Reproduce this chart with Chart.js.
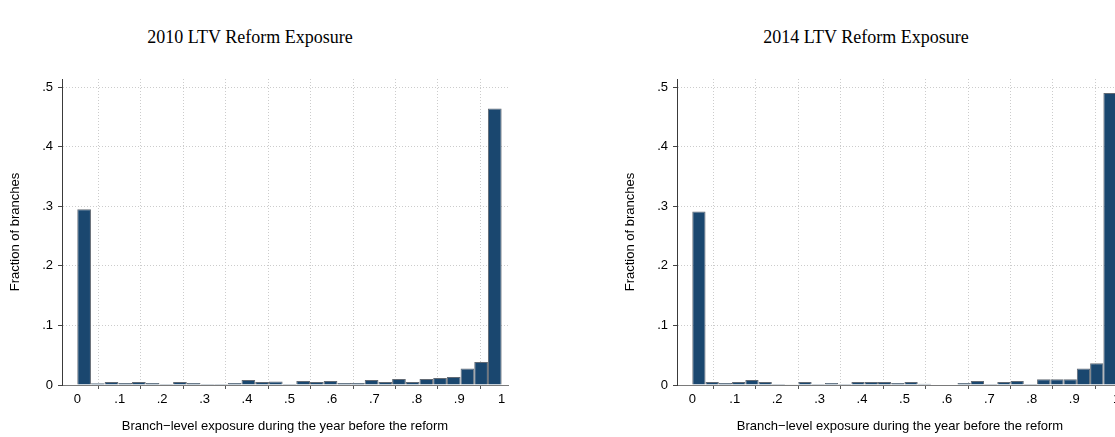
<!DOCTYPE html>
<html>
<head>
<meta charset="utf-8">
<script src="https://cdn.jsdelivr.net/npm/chart.js@4/dist/chart.umd.min.js"></script>
<style>
  html, body { margin: 0; padding: 0; background: #fff; overflow: hidden; width: 1115px; height: 437px; }
  .panel { position: absolute; top: 0; width: 560px; height: 437px; }
  .panel canvas { position: absolute; left: 0; top: 0; }
  .ttl { position: absolute; top: 26px; font-family: 'Liberation Serif', serif; font-size: 18px; line-height: 22px;
         color: #000; white-space: nowrap; transform: translateX(-50%); }
</style>
</head>
<body>
<div class="panel" style="left:0px">
  <div class="ttl" style="left:250px">2010 LTV Reform Exposure</div>
  <canvas id="c2010" width="560" height="437"></canvas>
</div>
<div class="panel" style="left:615px">
  <div class="ttl" style="left:251px">2014 LTV Reform Exposure</div>
  <canvas id="c2014" width="560" height="437"></canvas>
</div>
<script>
// Tick positions and their printed labels
const xTickValues = [0, 0.1, 0.2, 0.3, 0.4, 0.5, 0.6, 0.7, 0.8, 0.9, 1];
const xTickLabels = ['0', '.1', '.2', '.3', '.4', '.5', '.6', '.7', '.8', '.9', '1'];
const yTickValues = [0, 0.1, 0.2, 0.3, 0.4, 0.5];
const yTickLabels = ['0', '.1', '.2', '.3', '.4', '.5'];

// Fraction of branches in each exposure bin (bins span 0..1 evenly)
const exposure2010 = [
  0.295, 0.003, 0.005, 0.0034, 0.005, 0.0034, 0.0017, 0.005, 0.0034, 0.0017, 0.0017,
  0.0034, 0.0084, 0.005, 0.006, 0.0017, 0.0067, 0.005, 0.0067, 0.0034, 0.0034,
  0.0084, 0.005, 0.010, 0.005, 0.010, 0.0118, 0.0135, 0.0275, 0.0387, 0.464
];
const exposure2014 = [
  0.291, 0.005, 0.0034, 0.005, 0.0084, 0.005, 0.0017, 0.0012, 0.005, 0.0017, 0.0034,
  0.0017, 0.005, 0.005, 0.005, 0.0034, 0.005, 0.002, 0.001, 0.001, 0.0034,
  0.0067, 0.0017, 0.005, 0.0067, 0.0017, 0.0095, 0.0095, 0.0095, 0.0275, 0.0365, 0.490
];

const xAxisTitle = 'Branch\u2212level exposure during the year before the reform';
const yAxisTitle = 'Fraction of branches';

const SANS = "'Liberation Sans', Arial, Helvetica, sans-serif";

function histogram(canvasId, values) {
  const binWidth = 1 / values.length;
  const points = values.map((v, i) => ({ x: (i + 0.5) * binWidth, y: v }));
  return new Chart(document.getElementById(canvasId), {
    type: 'bar',
    data: {
      datasets: [{
        data: points,
        backgroundColor: '#1a476f',
        borderColor: '#626a74',
        borderWidth: 1,
        borderSkipped: 'start',
        inflateAmount: 0,
        barPercentage: 1,
        categoryPercentage: 1
      }]
    },
    options: {
      responsive: false,
      animation: false,
      layout: { padding: { top: 79, right: 52, bottom: 0, left: 0 } },
      plugins: { legend: { display: false }, tooltip: { enabled: false }, title: { display: false } },
      scales: {
        x: {
          type: 'linear',
          min: -0.036,
          max: 1.015,
          offset: false,
          afterBuildTicks: s => { s.ticks = xTickValues.map(v => ({ value: v })); },
          afterFit: s => { s.height = 52; },
          ticks: {
            callback: (v, i) => xTickLabels[i],
            autoSkip: false, maxRotation: 0, padding: 3,
            color: '#000', font: { family: SANS, size: 13 }
          },
          grid: { color: '#cccccc', lineWidth: 1, drawTicks: true, tickLength: 4,
                  tickColor: '#555', tickWidth: 1, tickBorderDash: [] },
          border: { display: true, color: '#7a7a7a', width: 1, dash: [1, 2] },
          title: { display: true, text: xAxisTitle, color: '#000',
                   font: { family: SANS, size: 13 }, padding: { top: 0, bottom: 3 } }
        },
        y: {
          min: 0,
          max: 0.5135,
          afterBuildTicks: s => { s.ticks = yTickValues.map(v => ({ value: v })); },
          afterFit: s => { s.width = 62; },
          ticks: {
            callback: (v, i) => yTickLabels[i],
            autoSkip: false, padding: 5,
            color: '#000', font: { family: SANS, size: 13 }
          },
          grid: { color: '#cccccc', lineWidth: 1, drawTicks: true, tickLength: 4,
                  tickColor: '#444', tickWidth: 1, tickBorderDash: [] },
          border: { display: true, color: '#3a3a3a', width: 1, dash: [1, 2] },
          title: { display: true, text: yAxisTitle, color: '#000',
                   font: { family: SANS, size: 13 }, padding: { top: 8, bottom: 0 } }
        }
      }
    }
  });
}

histogram('c2010', exposure2010);
histogram('c2014', exposure2014);
</script>
</body>
</html>
